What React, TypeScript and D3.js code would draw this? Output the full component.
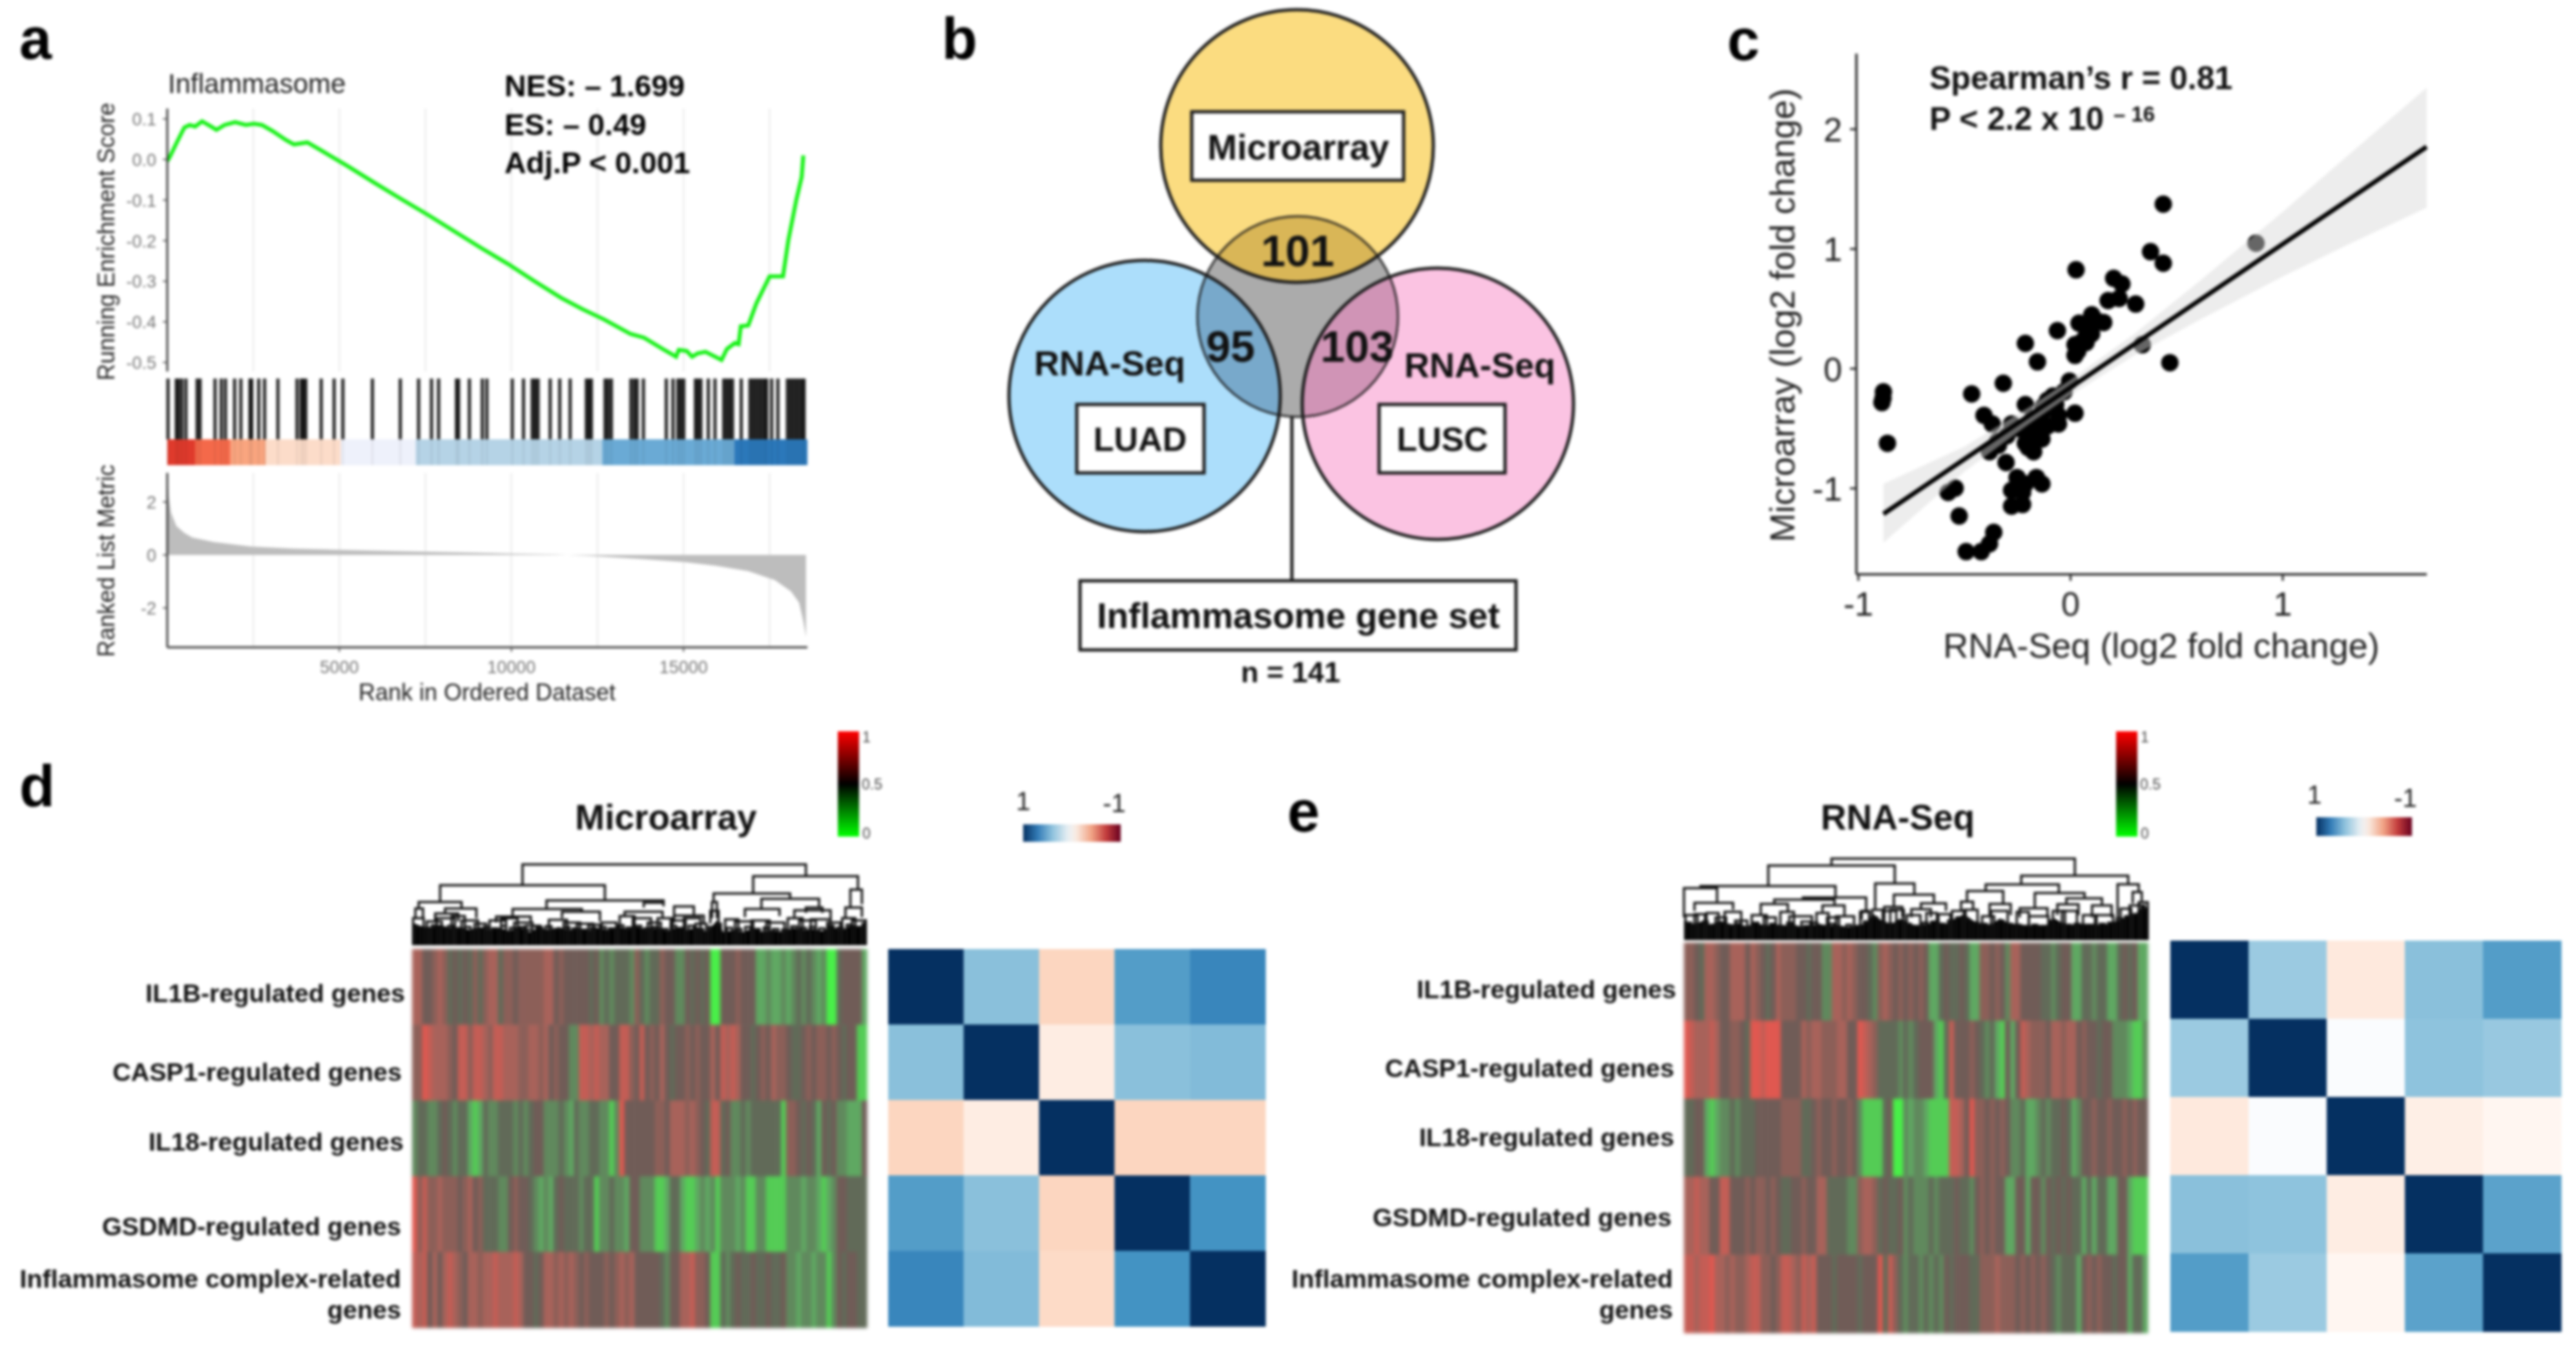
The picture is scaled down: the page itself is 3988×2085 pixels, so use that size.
import { area, curveLinear, interpolateRdBu, line, range, scaleBand, scaleLinear } from "d3";

const fontFamily = '"Liberation Sans", Arial, sans-serif';

// panel a: running enrichment score
const esRanks = [0, 78, 264, 497, 652, 808, 1009, 1273, 1429, 1662, 1972, 2283, 2516, 2749, 3059, 3448, 3681, 4069, 4457, 5234, 6010, 6787, 7563, 8340, 9116, 9893, 10669, 11446, 12067, 12688, 13465, 13853, 14397, 14785, 14862, 15095, 15250, 15406, 15639, 16105, 16260, 16493, 16602, 16664, 16881, 17114, 17502, 17891, 18046, 18279, 18434, 18481];
const esScores = [-0.004, 0.007, 0.04, 0.079, 0.085, 0.081, 0.094, 0.081, 0.073, 0.085, 0.092, 0.085, 0.088, 0.085, 0.07, 0.048, 0.037, 0.042, 0.023, -0.016, -0.057, -0.097, -0.136, -0.177, -0.218, -0.257, -0.3, -0.341, -0.369, -0.394, -0.43, -0.439, -0.467, -0.486, -0.469, -0.472, -0.486, -0.478, -0.474, -0.494, -0.467, -0.452, -0.455, -0.411, -0.409, -0.355, -0.288, -0.288, -0.199, -0.099, -0.043, 0.01];
const esTicks = [0.1, 0, -0.1, -0.2, -0.3, -0.4, -0.5];
const rugRanks = [20, 262, 323, 420, 541, 867, 952, 1387, 1569, 1690, 1956, 2137, 2403, 2452, 2657, 2827, 3214, 3770, 3891, 3952, 4024, 4472, 4847, 5101, 5960, 6770, 7302, 7677, 7883, 8403, 8463, 8778, 9153, 9286, 10024, 10350, 10604, 10689, 10774, 11125, 11403, 11705, 12177, 12249, 12322, 12721, 12806, 12903, 13471, 13568, 13653, 13834, 14499, 14693, 14838, 14923, 15007, 15346, 15419, 15503, 15721, 15914, 16168, 16253, 16338, 16423, 16677, 16931, 17015, 17100, 17185, 17270, 17354, 17415, 17560, 17741, 18019, 18104, 18189, 18273, 18358, 18443, 18503];
const bandEdges = [0, 807, 1835, 2863, 5040, 7218, 12636, 16471, 18600];
const bandColors = ["#df3a2c", "#f4694a", "#f9a57f", "#fcdcc9", "#eef1fb", "#b5d3e6", "#6aaad5", "#2b78ba"];
const metricRanks = [0, 40, 109, 264, 497, 730, 1351, 2438, 3680, 5078, 6787, 8495, 10048, 11281, 12222, 13775, 15017, 15950, 16881, 17658, 18124, 18357, 18481, 18558];
const metricValues = [3, 2.2, 1.6, 1.09, 0.83, 0.66, 0.49, 0.32, 0.24, 0.19, 0.14, 0.1, 0.05, 0.02, -0.03, -0.15, -0.27, -0.41, -0.61, -0.95, -1.38, -1.8, -2.5, -3.1];
const metricTicks = [2, 0, -2];
const rankTicks = [5000, 10000, 15000];
const rankGrid = [2500, 5000, 7500, 10000, 12500, 15000, 17500];

// panel c: fold changes
const rnaSeqFc = [0.437, 0.874, 0.377, 0.437, 0.026, 0.203, 0.242, 0.177, 0.229, 0.307, 0.1, 0.156, 0.04, 0.07, 0.125, -0.062, -0.213, 0.338, -0.156, 0.468, -0.317, -0.466, 0.073, 0.021, 0.047, 0.099, 0.034, 0.073, 0.021, -0.882, -0.884, -0.889, -0.863, -0.408, -0.369, -0.213, -0.005, -0.031, -0.083, -0.109, -0.07, -0.135, 0.021, -0.057, -0.109, -0.057, -0.161, -0.213, -0.278, -0.343, -0.382, -0.135, -0.174, -0.213, -0.174, -0.2, -0.304, -0.252, -0.161, -0.135, -0.213, -0.278, -0.226, -0.226, -0.278, -0.544, -0.577, -0.525, -0.362, -0.382, -0.421, -0.492, -0.09, -0.13, -0.18, -0.24, -0.3, -0.34];
const microarrayFc = [1.374, 1.048, 0.977, 0.88, 0.826, 0.755, 0.708, 0.569, 0.587, 0.54, 0.45, 0.386, 0.38, 0.36, 0.397, 0.318, 0.211, 0.2, 0.057, 0.05, -0.122, -0.211, 0.272, 0.2, 0.218, 0.29, 0.147, 0.218, 0.111, -0.193, -0.247, -0.283, -0.623, -0.39, -0.462, -0.3, -0.104, -0.193, -0.229, -0.265, -0.3, -0.372, -0.372, -0.39, -0.479, -0.462, -0.462, -0.497, -0.462, -0.605, -0.694, -0.587, -0.569, -0.623, -0.694, -0.658, -0.784, -0.909, -0.909, -0.962, -0.962, -1.016, -1.034, -1.134, -1.148, -0.998, -1.034, -1.231, -1.367, -1.463, -1.528, -1.528, -0.25, -0.32, -0.42, -0.5, -0.56, -0.64];
const fitX = [-0.882, 1.678];
const fitY = [-1.213, 1.853];
const bandX = [-0.882, -0.5, -0.2, 0, 0.3, 0.6, 1, 1.3, 1.678];
const bandLow = [-1.453, -0.86, -0.467, -0.222, 0.11, 0.4, 0.77, 1.03, 1.345];
const bandHigh = [-0.962, -0.65, -0.327, -0.092, 0.29, 0.72, 1.31, 1.77, 2.347];
const scatterXTicks = [-1, 0, 1];
const scatterYTicks = [2, 1, 0, -1];

// panels d and e: one level 0-9 per column (0 green, 9 red)
const geneSets = ["IL1B-regulated genes", "CASP1-regulated genes", "IL18-regulated genes", "GSDMD-regulated genes", "Inflammasome complex-related"];
const microHeat = [
  "77 55 676 45 454 6 4 677 4 665 666667 756555 5545 343444 36 4344 655 33 54545 00 555655 52232232 3434 323 00 45555 2",
  "66 98 777 65 8 86 88 76 88777 667 767 5655 33 887877 55 88 65 8 565 7 545 565655 75 878 75 545 657665 445 6566 565455 11",
  "3 44 33 454 3 44 212 4 334 44 343 4 55 3334 324 3344 3313 9 555555 665 777676 54 88 45 3343 4444441 66 5454 2 545 33 222 5",
  "9 6 8 66 76665 6756 444 33 5655 4 323 2 4544 4344 1 33433 2 55 333 112 44 2112 323 1 33323 11 33 1111 3 33233 212 3 55 4444",
  "878 57 5 787 65 7767 787 7787 5545 7767676 5655 5656 767 555554 3 55 7786 65 11 434 54 45445445 33233233 1 3 5455 44",
];
const rnaHeat = [
  "665 4 77 6 55 777 5 76 545 76 665 5455 33 77 676 554 3 67 65656565 22 4544 54 22 66565 37 7 5555 4434 55 22 44344 22 4545 2 2",
  "98 77 787 55 66 54 998999 5555 7677 666 77 55 98 76 444 43434 555 21 4 8 55565 434 21 5 2 5 87 6665 77677 5655455 333 211 3",
  "44 55 212 33 4 3 444 55555 6666 44 565565565 3 1111 45 00 3233 21111 887 5 9 66 56565 334 22 3434 454 2 3 5565565565655",
  "77877 55 88 55565 66565 44 55655 77 4444 33 67 76 45445 3433343 444544 3 565655 22 5 5 2 55 3 5454544 24 2 44 22 55 2 111",
  "88788 9 7767 667 88 6656 887 6 878 555455554555 9 4 8 6 4344 34343 5455 544 666766 65656565 434 44 2 5656 55455 2 44 2",
];

// correlation between the gene sets
const microCorr = [
  [1, 0.42, -0.22, 0.56, 0.66],
  [0.42, 1, -0.1, 0.42, 0.44],
  [-0.22, -0.1, 1, -0.22, -0.22],
  [0.56, 0.42, -0.22, 1, 0.6],
  [0.66, 0.44, -0.2, 0.6, 1],
];
const rnaCorr = [
  [1, 0.37, -0.12, 0.42, 0.56],
  [0.37, 1, 0.02, 0.41, 0.38],
  [-0.12, 0.02, 1, -0.09, -0.05],
  [0.42, 0.41, -0.1, 1, 0.54],
  [0.56, 0.37, -0.05, 0.54, 1],
];
const corrStops = ["#67001f", "#b2182b", "#d6604d", "#f4a582", "#fddbc7", "#ffffff", "#d1e5f0", "#92c5de", "#4393c3", "#2166ac", "#053061"];
const corrDomain = [-1, -0.8, -0.6, -0.4, -0.2, 0, 0.2, 0.4, 0.6, 0.8, 1];

// dendrograms: [left leaf, right leaf, merge level, left child level, right child level]
type Link = number[];
const microLinks: Link[] = [
  [410, 1270, 655, 750, 710], [160, 660, 752, 830, 825], [1110, 1428, 710, 790, 770], [1405, 1440, 772, 860, 840],
  [990, 1222, 790, 825, 812], [985, 1000, 830, 905, 905], [980, 1005, 870, 930, 930], [1135, 1310, 815, 860, 855],
  [1085, 1190, 862, 900, 895], [1235, 1345, 868, 900, 910], [1270, 1320, 855, 880, 880], [95, 225, 830, 860, 858],
  [175, 270, 860, 880, 905], [85, 108, 860, 905, 905], [145, 215, 883, 920, 920], [483, 838, 822, 860, 835],
  [380, 590, 862, 895, 875], [330, 435, 897, 925, 925], [530, 645, 875, 905, 920], [778, 838, 833, 855, 850],
  [720, 835, 875, 900, 900], [870, 930, 850, 895, 890], [870, 960, 893, 925, 925], [1390, 1440, 855, 905, 900],
];
const microArches = [
  [78, 110, 905], [120, 165, 920], [150, 205, 905], [195, 235, 895], [225, 275, 915], [265, 300, 930], [310, 360, 915], [345, 395, 905],
  [385, 440, 925], [420, 465, 940], [490, 545, 912], [535, 585, 925], [575, 625, 930], [610, 650, 935], [650, 695, 925], [705, 750, 895],
  [745, 800, 905], [790, 830, 925], [820, 865, 905], [860, 905, 915], [900, 950, 905], [935, 968, 930], [1025, 1065, 910], [1055, 1110, 920],
  [1105, 1160, 915], [1150, 1205, 925], [1215, 1260, 905], [1250, 1300, 915], [1285, 1345, 910], [1335, 1375, 925], [1380, 1420, 905], [1410, 1450, 915],
  [85, 98, 945], [110, 128, 950], [135, 150, 938], [160, 178, 948], [185, 200, 940], [210, 226, 952], [235, 252, 945], [262, 280, 955], [292, 308, 945],
  [318, 335, 952], [345, 360, 940], [372, 388, 950], [398, 415, 945], [425, 440, 958], [452, 470, 948], [480, 498, 942], [508, 524, 955], [535, 552, 945],
  [562, 578, 952], [590, 606, 958], [618, 632, 950], [645, 662, 945], [672, 690, 952], [700, 716, 938], [726, 742, 948], [752, 770, 940], [780, 796, 952],
  [806, 822, 945], [832, 850, 955], [860, 876, 940], [888, 904, 950], [914, 930, 940], [942, 958, 955], [975, 985, 945], [1000, 1012, 930], [1030, 1046, 950],
  [1058, 1074, 955], [1086, 1102, 945], [1114, 1130, 955], [1142, 1158, 948], [1170, 1186, 955], [1198, 1214, 958], [1226, 1242, 942], [1254, 1270, 950],
  [1282, 1298, 945], [1310, 1326, 952], [1338, 1354, 940], [1366, 1382, 948], [1394, 1410, 935], [1420, 1436, 945], [1442, 1452, 930],
];
const microMass = [
  [75, 925], [100, 940], [130, 950], [160, 935], [190, 950], [220, 945], [250, 960], [280, 945], [310, 960], [340, 950], [370, 965], [400, 945],
  [430, 970], [460, 950], [490, 960], [520, 945], [550, 960], [580, 955], [610, 965], [640, 950], [670, 960], [700, 945], [730, 955], [760, 945],
  [790, 960], [820, 950], [850, 965], [880, 945], [910, 960], [940, 945], [970, 970], [1000, 915], [1020, 970], [1050, 960], [1080, 970], [1110, 950],
  [1140, 970], [1170, 960], [1200, 970], [1230, 950], [1260, 960], [1290, 955], [1320, 965], [1350, 945], [1380, 960], [1410, 935], [1440, 945], [1455, 905],
];
const rnaLinks: Link[] = [
  [505, 1313, 28, 60, 107], [295, 715, 60, 158, 143], [1135, 1490, 107, 150, 145], [70, 518, 155, 165, 208], [15, 125, 165, 300, 228],
  [50, 178, 233, 270, 265], [410, 620, 208, 218, 270], [315, 515, 218, 238, 245], [270, 360, 238, 290, 275], [475, 548, 245, 275, 295],
  [605, 630, 270, 310, 310], [650, 780, 143, 260, 195], [712, 845, 195, 252, 235], [802, 885, 235, 262, 270], [770, 835, 262, 300, 300],
  [680, 740, 252, 300, 300], [1017, 1260, 148, 178, 187], [955, 1075, 178, 228, 238], [935, 975, 228, 270, 270], [1030, 1100, 238, 290, 290],
  [1180, 1345, 187, 258, 212], [1285, 1403, 212, 240, 245], [1130, 1222, 258, 300, 300], [1255, 1325, 240, 290, 290], [1370, 1435, 245, 300, 300],
  [1455, 1525, 147, 310, 183], [1505, 1535, 183, 235, 225],
];
const rnaArches = [
  [20, 60, 290], [50, 85, 285], [90, 130, 280], [120, 155, 300], [150, 205, 275], [185, 225, 315], [240, 290, 290], [280, 320, 300], [335, 380, 275],
  [365, 440, 295], [405, 435, 320], [455, 495, 280], [490, 530, 300], [520, 580, 295], [600, 630, 275], [640, 680, 265], [675, 720, 270], [700, 745, 265],
  [755, 800, 290], [820, 855, 280], [860, 900, 285], [905, 950, 270], [945, 990, 265], [1005, 1045, 295], [1035, 1090, 270], [1120, 1160, 275], [1160, 1225, 295],
  [1240, 1280, 270], [1270, 1320, 270], [1340, 1385, 290], [1380, 1440, 290], [1465, 1500, 260], [1495, 1535, 245], [1525, 1555, 230],
  [22, 38, 325], [50, 66, 335], [78, 94, 320], [106, 122, 335], [134, 150, 325], [162, 178, 340], [190, 206, 330], [218, 234, 345], [246, 262, 325], [274, 290, 340],
  [302, 318, 330], [330, 346, 340], [358, 374, 325], [386, 402, 345], [414, 430, 340], [442, 458, 325], [470, 486, 340], [498, 514, 330], [526, 542, 345], [554, 570, 335],
  [582, 598, 340], [612, 628, 320], [640, 656, 300], [668, 684, 325], [696, 712, 330], [724, 740, 315], [752, 768, 330], [780, 796, 340], [808, 824, 325], [836, 852, 320],
  [864, 880, 330], [892, 908, 315], [920, 936, 300], [948, 964, 310], [976, 992, 325], [1004, 1020, 330], [1032, 1048, 335], [1060, 1076, 315], [1088, 1104, 330], [1116, 1132, 335],
  [1144, 1160, 340], [1172, 1188, 335], [1200, 1216, 340], [1228, 1244, 315], [1256, 1272, 330], [1284, 1300, 335], [1312, 1328, 330], [1340, 1356, 335], [1368, 1384, 335],
  [1396, 1412, 330], [1424, 1440, 325], [1452, 1468, 305], [1480, 1496, 295], [1508, 1524, 285], [1536, 1552, 260],
];
const rnaMass = [
  [15, 315], [45, 330], [75, 320], [105, 335], [135, 315], [165, 330], [195, 335], [225, 340], [255, 325], [285, 340], [315, 330], [345, 340], [375, 330],
  [405, 345], [435, 340], [465, 330], [495, 340], [525, 335], [555, 345], [585, 340], [615, 330], [645, 285], [675, 320], [705, 330], [735, 305], [765, 330],
  [795, 340], [825, 330], [855, 320], [885, 330], [915, 305], [945, 285], [975, 315], [1005, 330], [1035, 335], [1065, 305], [1095, 330], [1125, 330], [1155, 340],
  [1185, 335], [1215, 340], [1245, 305], [1275, 330], [1305, 335], [1335, 330], [1365, 330], [1395, 335], [1425, 330], [1455, 315], [1485, 295], [1515, 285], [1545, 235], [1555, 285],
];

const heatColor = scaleLinear<string>().domain([0, 2, 4.5, 7, 9]).range(["#48f048", "#5fa862", "#625a56", "#a8625a", "#e05850"]);
const corrColor = scaleLinear<string>().domain(corrDomain).range(corrStops);
const polyline = line<number[]>().x((d) => d[0]).y((d) => d[1]);

function PanelLetter({ x, y, children }: { x: number; y: number; children: string }) {
  return (
    <text x={x} y={y} fontSize={90} fontWeight={700} fill="#000">
      {children}
    </text>
  );
}

function GseaPanel() {
  const rankX = scaleLinear().domain([0, 18600]).range([259, 1250]);
  const esY = scaleLinear().domain([0.1, -0.5]).range([184, 561]);
  const metricY = scaleLinear().domain([2, -2]).range([777, 941]);
  const esPath = line<number>()
    .x((d) => rankX(d))
    .y((_, i) => esY(esScores[i]))(esRanks);
  const metricPath = area<number>()
    .curve(curveLinear)
    .x((d) => rankX(d))
    .y0(metricY(0))
    .y1((_, i) => metricY(metricValues[i]))(metricRanks);
  return (
    <g>
      <PanelLetter x={30} y={91}>a</PanelLetter>
      {rankGrid.map((r) => (
        <g key={r} stroke="#ececec" strokeWidth={2.5}>
          <line x1={rankX(r)} x2={rankX(r)} y1={168} y2={575} />
          <line x1={rankX(r)} x2={rankX(r)} y1={732} y2={1002} />
        </g>
      ))}
      <path d={esPath ?? ""} fill="none" stroke="#12f012" strokeWidth={6} />
      {rugRanks.map((r) => (
        <line key={r} x1={rankX(r)} x2={rankX(r)} y1={586} y2={680} stroke="#000" strokeWidth={5} opacity={0.85} />
      ))}
      {bandColors.map((c, i) => (
        <rect key={c} x={rankX(bandEdges[i])} y={680} width={rankX(bandEdges[i + 1]) - rankX(bandEdges[i])} height={40} fill={c} />
      ))}
      {rugRanks.map((r) => (
        <line key={r} x1={rankX(r)} x2={rankX(r)} y1={680} y2={720} stroke="#000" strokeWidth={3} opacity={0.06} />
      ))}
      <path d={metricPath ?? ""} fill="#bdbdbd" />
      <g stroke="#333" strokeWidth={3}>
        <line x1={259} x2={259} y1={168} y2={575} />
        <line x1={259} x2={259} y1={732} y2={1002} />
        <line x1={259} x2={1250} y1={1002} y2={1002} />
      </g>
      <g fontSize={27} fill="#757575" textAnchor="end">
        {esTicks.map((t) => (
          <g key={t}>
            <line x1={252} x2={259} y1={esY(t)} y2={esY(t)} stroke="#555" strokeWidth={2} />
            <text x={242} y={esY(t) + 10}>{t.toFixed(1)}</text>
          </g>
        ))}
        {metricTicks.map((t) => (
          <g key={t}>
            <line x1={252} x2={259} y1={metricY(t)} y2={metricY(t)} stroke="#555" strokeWidth={2} />
            <text x={242} y={metricY(t) + 10}>{t}</text>
          </g>
        ))}
      </g>
      <g fontSize={27} fill="#757575" textAnchor="middle">
        {rankTicks.map((t) => (
          <g key={t}>
            <line x1={rankX(t)} x2={rankX(t)} y1={1002} y2={1009} stroke="#555" strokeWidth={2} />
            <text x={rankX(t)} y={1042}>{t}</text>
          </g>
        ))}
      </g>
      <text x={260} y={144} fontSize={42} fill="#222">Inflammasome</text>
      <text fontSize={36} fill="#222" textAnchor="middle" transform="translate(177,374) rotate(-90)">Running Enrichment Score</text>
      <text fontSize={36} fill="#222" textAnchor="middle" transform="translate(177,868) rotate(-90)">Ranked List Metric</text>
      <text x={754} y={1084} fontSize={36} fill="#222" textAnchor="middle">Rank in Ordered Dataset</text>
      <g fontSize={46.5} fontWeight={700} fill="#000">
        <text x={781} y={149}>NES: – 1.699</text>
        <text x={781} y={209}>ES: – 0.49</text>
        <text x={781} y={268}>Adj.P &lt; 0.001</text>
      </g>
    </g>
  );
}

const vennCircles = [
  { id: "top", cx: 2008, cy: 226, r: 211, fill: "#fbdc80", overlap: "#d9b657" },
  { id: "left", cx: 1772, cy: 613, r: 210, fill: "#acdefb", overlap: "#78a9cb" },
  { id: "right", cx: 2226, cy: 625, r: 210, fill: "#fbc3e2", overlap: "#d094b6" },
];
const vennCore = { cx: 2009, cy: 490, r: 157 };
const vennBoxes = [
  { label: "Microarray", x: 1845, y: 173, w: 328, h: 106, tx: 2010, ty: 247, size: 55 },
  { label: "LUAD", x: 1667, y: 626, w: 197, h: 106, tx: 1765, ty: 698, size: 52 },
  { label: "LUSC", x: 2135, y: 626, w: 195, h: 106, tx: 2233, ty: 698, size: 52 },
  { label: "Inflammasome gene set", x: 1672, y: 899, w: 675, h: 107, tx: 2010, ty: 972, size: 55 },
];
const vennCounts = [
  { label: "101", x: 2009, y: 412 },
  { label: "95", x: 1905, y: 560 },
  { label: "103", x: 2101, y: 560 },
];

function VennPanel() {
  return (
    <g>
      <PanelLetter x={1458} y={91}>b</PanelLetter>
      <defs>
        <clipPath id="vennCoreClip">
          <circle cx={vennCore.cx} cy={vennCore.cy} r={vennCore.r} />
        </clipPath>
      </defs>
      {vennCircles.map((c) => (
        <circle key={c.id} cx={c.cx} cy={c.cy} r={c.r} fill={c.fill} />
      ))}
      <g clipPath="url(#vennCoreClip)">
        <rect x={vennCore.cx - vennCore.r} y={vennCore.cy - vennCore.r} width={vennCore.r * 2} height={vennCore.r * 2} fill="#ababab" />
        {vennCircles.map((c) => (
          <circle key={c.id} cx={c.cx} cy={c.cy} r={c.r} fill={c.overlap} />
        ))}
      </g>
      <g clipPath="url(#vennCoreClip)">
        <circle cx={vennCore.cx} cy={vennCore.cy} r={vennCore.r} fill="none" stroke="#1c1c1c" strokeWidth={7} opacity={0.8} />
      </g>
      {vennCircles.map((c) => (
        <circle key={c.id} cx={c.cx} cy={c.cy} r={c.r} fill="none" stroke="#1c1c1c" strokeWidth={5} />
      ))}
      <line x1={2000} x2={2000} y1={644} y2={899} stroke="#1c1c1c" strokeWidth={5} />
      {vennBoxes.map((b) => (
        <g key={b.label}>
          <rect x={b.x} y={b.y} width={b.w} height={b.h} fill="#fff" stroke="#1c1c1c" strokeWidth={5} />
          <text x={b.tx} y={b.ty} fontSize={b.size} fontWeight={700} textAnchor="middle" fill="#111">{b.label}</text>
        </g>
      ))}
      {vennCounts.map((c) => (
        <text key={c.label} x={c.x} y={c.y} fontSize={68} fontWeight={700} textAnchor="middle" fill="#111">{c.label}</text>
      ))}
      <text x={1718} y={581} fontSize={54} fontWeight={700} textAnchor="middle" fill="#111">RNA-Seq</text>
      <text x={2291} y={584} fontSize={54} fontWeight={700} textAnchor="middle" fill="#111">RNA-Seq</text>
      <text x={1998} y={1056} fontSize={45} fontWeight={700} textAnchor="middle" fill="#111">n = 141</text>
    </g>
  );
}

function ScatterPanel() {
  const x = scaleLinear().domain([-1, 1]).range([2877, 3534]);
  const y = scaleLinear().domain([-1, 2]).range([756, 200]);
  const ribbon = area<number>()
    .x((d) => x(d))
    .y0((_, i) => y(bandLow[i]))
    .y1((_, i) => y(bandHigh[i]))(bandX);
  return (
    <g>
      <PanelLetter x={2674} y={93}>c</PanelLetter>
      {rnaSeqFc.map((d, i) => (
        <circle key={i} cx={x(d)} cy={y(microarrayFc[i])} r={13.5} fill="#000" />
      ))}
      <path d={ribbon ?? ""} fill="#d9d9d9" opacity={0.47} />
      <line x1={x(fitX[0])} x2={x(fitX[1])} y1={y(fitY[0])} y2={y(fitY[1])} stroke="#000" strokeWidth={7} />
      <g stroke="#222" strokeWidth={3.5}>
        <line x1={2874} x2={2874} y1={83} y2={889} />
        <line x1={2874} x2={3757} y1={889} y2={889} />
      </g>
      <g fontSize={52} fill="#222">
        {scatterYTicks.map((t) => (
          <g key={t}>
            <line x1={2864} x2={2874} y1={y(t)} y2={y(t)} stroke="#222" strokeWidth={3} />
            <text x={2852} y={y(t) + 19} textAnchor="end">{t}</text>
          </g>
        ))}
        {scatterXTicks.map((t) => (
          <g key={t}>
            <line x1={x(t)} x2={x(t)} y1={889} y2={899} stroke="#222" strokeWidth={3} />
            <text x={x(t)} y={953} textAnchor="middle">{t}</text>
          </g>
        ))}
      </g>
      <text x={3346} y={1018} fontSize={54} fill="#222" textAnchor="middle">RNA-Seq (log2 fold change)</text>
      <text fontSize={54} fill="#222" textAnchor="middle" transform="translate(2778,488) rotate(-90)">Microarray (log2 fold change)</text>
      <g fontWeight={700} fill="#111">
        <text x={2987} y={138} fontSize={50}>Spearman’s r = 0.81</text>
        <text x={2987} y={201} fontSize={50}>P &lt; 2.2 x 10</text>
        <text x={3272} y={188} fontSize={33}>– 16</text>
      </g>
    </g>
  );
}

type ClusterProps = {
  id: string;
  letter: string;
  letterX: number;
  letterY: number;
  title: string;
  titleX: number;
  heat: string[];
  corr: number[][];
  links: Link[];
  arches: number[][];
  mass: number[][];
  leafDomain: [number, number];
  levelDomain: [number, number];
  heatX: [number, number];
  heatY: [number, number];
  treeY: [number, number];
  corrX: [number, number];
  corrY: [number, number];
  barX: number;
  legend: { x: number; y: number; w: number; h: number; lx0: number; ly0: number; lx1: number; ly1: number };
  labelX: number[];
  labelY: number[];
};

function ClusterPanel(p: ClusterProps) {
  const leaf = scaleLinear().domain(p.leafDomain).range(p.heatX);
  const level = scaleLinear().domain(p.levelDomain).range(p.treeY);
  const rowY = scaleBand<number>().domain(range(5)).range(p.heatY);
  const corrCol = scaleBand<number>().domain(range(5)).range(p.corrX);
  const corrRow = scaleBand<number>().domain(range(5)).range(p.corrY);
  const massPath = area<number[]>()
    .x((d) => leaf(d[0]))
    .y0(level(p.levelDomain[1]))
    .y1((d) => level(d[1]))(p.mass);
  const legendStops = [0, 0.15, 0.3, 0.45, 0.5, 0.55, 0.7, 0.85, 1];
  return (
    <g>
      <PanelLetter x={p.letterX} y={p.letterY}>{p.letter}</PanelLetter>
      <text x={p.titleX} y={1284} fontSize={55} fontWeight={700} textAnchor="middle" fill="#111">{p.title}</text>
      <defs>
        <linearGradient id={`${p.id}-bar`} x1="0" x2="0" y1="1" y2="0">
          <stop offset="0" stopColor="#00ff00" />
          <stop offset="0.5" stopColor="#000" />
          <stop offset="1" stopColor="#ff0000" />
        </linearGradient>
        <linearGradient id={`${p.id}-legend`} x1="0" x2="1" y1="0" y2="0">
          {legendStops.map((t) => (
            <stop key={t} offset={t} stopColor={interpolateRdBu(1 - t)} />
          ))}
        </linearGradient>
      </defs>
      <rect x={p.barX} y={1132} width={33} height={163} fill={`url(#${p.id}-bar)`} />
      <g fontSize={23} fill="#444">
        <text x={p.barX + 38} y={1149}>1</text>
        <text x={p.barX + 37} y={1222}>0.5</text>
        <text x={p.barX + 38} y={1298}>0</text>
      </g>
      <rect x={p.legend.x} y={p.legend.y} width={p.legend.w} height={p.legend.h} fill={`url(#${p.id}-legend)`} />
      <g fontSize={40} fill="#222" textAnchor="middle">
        <text x={p.legend.lx0} y={p.legend.ly0}>1</text>
        <text x={p.legend.lx1} y={p.legend.ly1}>-1</text>
      </g>
      <path d={massPath ?? ""} fill="#000" />
      <g fill="none" stroke="#111" strokeWidth={3.5}>
        {p.links.map((d, i) => (
          <path
            key={i}
            d={polyline([
              [leaf(d[0]), level(d[3])],
              [leaf(d[0]), level(d[2])],
              [leaf(d[1]), level(d[2])],
              [leaf(d[1]), level(d[4])],
            ]) ?? ""}
          />
        ))}
        {p.arches.map((d, i) => (
          <path
            key={i}
            d={polyline([
              [leaf(d[0]), level(p.levelDomain[1])],
              [leaf(d[0]), level(d[2])],
              [leaf(d[1]), level(d[2])],
              [leaf(d[1]), level(p.levelDomain[1])],
            ]) ?? ""}
          />
        ))}
      </g>
      <g style={{ filter: "blur(2px)" }}>
        {p.heat.map((row, r) => {
          const cells = row.replace(/\s/g, "").split("").map(Number);
          const colX = scaleBand<number>().domain(range(cells.length)).range(p.heatX);
          return cells.map((v, c) => (
            <rect key={`${r}-${c}`} x={colX(c)} y={rowY(r)} width={colX.bandwidth() + 0.6} height={rowY.bandwidth() + 0.6} fill={heatColor(v)} />
          ));
        })}
      </g>
      {p.corr.map((row, r) =>
        row.map((v, c) => (
          <rect
            key={`${r}-${c}`}
            x={corrCol(c)}
            y={corrRow(r)}
            width={corrCol.bandwidth() + 0.6}
            height={corrRow.bandwidth() + 0.6}
            fill={corrColor(v)}
          />
        ))
      )}
      <g fontSize={39.5} fontWeight={700} textAnchor="end" fill="#111">
        {geneSets.map((g, i) => (
          <text key={g} x={p.labelX[i]} y={p.labelY[i]}>{g}</text>
        ))}
        <text x={p.labelX[5]} y={p.labelY[5]}>genes</text>
      </g>
    </g>
  );
}

export default function App() {
  return (
    <svg
      width={3988}
      height={2085}
      viewBox="0 0 3988 2085"
      style={{ position: "absolute", left: 0, top: 0, background: "#fff", filter: "blur(2px)" }}
      fontFamily={fontFamily}
    >
      <rect width={3988} height={2085} fill="#fff" />
      <GseaPanel />
      <VennPanel />
      <ScatterPanel />
      <ClusterPanel
        id="micro"
        letter="d"
        letterX={30}
        letterY={1248}
        title="Microarray"
        titleX={1031}
        heat={microHeat}
        corr={microCorr}
        links={microLinks}
        arches={microArches}
        mass={microMass}
        leafDomain={[75, 1455]}
        levelDomain={[655, 1030]}
        heatX={[638, 1342]}
        heatY={[1469, 2055]}
        treeY={[1338, 1463]}
        corrX={[1375, 1959]}
        corrY={[1469, 2053]}
        barX={1297}
        legend={{ x: 1584, y: 1276, w: 151, h: 27, lx0: 1584, ly0: 1254, lx1: 1725, ly1: 1257 }}
        labelX={[627, 622, 625, 621, 621, 621]}
        labelY={[1551, 1673, 1781, 1912, 1993, 2041]}
      />
      <ClusterPanel
        id="rna"
        letter="e"
        letterX={1993}
        letterY={1287}
        title="RNA-Seq"
        titleX={2938}
        heat={rnaHeat}
        corr={rnaCorr}
        links={rnaLinks}
        arches={rnaArches}
        mass={rnaMass}
        leafDomain={[15, 1555]}
        levelDomain={[25, 405]}
        heatX={[2607, 3325]}
        heatY={[1459, 2063]}
        treeY={[1328, 1455]}
        corrX={[3360, 3965]}
        corrY={[1456, 2061]}
        barX={3276}
        legend={{ x: 3586, y: 1265, w: 148, h: 29, lx0: 3583, ly0: 1244, lx1: 3724, ly1: 1249 }}
        labelX={[2595, 2592, 2592, 2588, 2590, 2590]}
        labelY={[1545, 1667, 1774, 1898, 1993, 2041]}
      />
    </svg>
  );
}
